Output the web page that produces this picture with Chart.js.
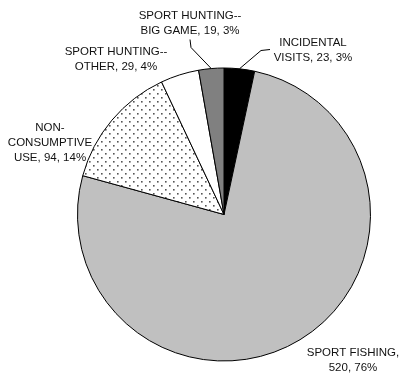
<!DOCTYPE html>
<html>
<head>
<meta charset="utf-8">
<script src="https://cdn.jsdelivr.net/npm/chart.js@4/dist/chart.umd.min.js"></script>
<style>
  html, body { margin: 0; padding: 0; background: #fff; }
  #wrap { width: 400px; height: 377px; }
</style>
</head>
<body>
<div id="wrap"><canvas id="pieChart" width="400" height="377"></canvas></div>
<script>
// data, clockwise from 12 o'clock
const categories = ['INCIDENTAL\nVISITS', 'SPORT FISHING', 'NON-\nCONSUMPTIVE\nUSE', 'SPORT HUNTING--\nOTHER', 'SPORT HUNTING--\nBIG GAME'];
const visits = [23, 520, 94, 29, 19];
const sliceFills = ['#000000', '#c0c0c0', 'dots', '#ffffff', '#808080'];

// label placement (offset of label block centre from pie centre) and leader lines
const labelOffsets = [[89, -164], [129, 146], [-174, -72], [-108, -155], [-34, -191]];
const valueOnNewLine = [false, true, false, false, false];
const leaderFrom = [[46, -165], null, null, null, [-34, -175]]; // where leader leaves the label
const leaderKnee = [[37, -164], null, null, null, [-33, -167]];

// dotted fill like the original
function dotPattern() {
    const c = document.createElement('canvas');
    c.width = 8; c.height = 8;
    const g = c.getContext('2d');
    g.fillStyle = '#fff';
    g.fillRect(0, 0, 8, 8);
    g.fillStyle = '#555';
    g.fillRect(1, 1, 1.6, 1.6);
    g.fillRect(5, 5, 1.6, 1.6);
    return g.createPattern(c, 'repeat');
}
const pattern = dotPattern();
const fills = sliceFills.map(f => f === 'dots' ? pattern : f);

const total = visits.reduce((a, b) => a + b, 0);

const pieLabels = {
    id: 'pieLabels',
    afterDatasetsDraw(chart) {
        const ctx = chart.ctx;
        const arcs = chart.getDatasetMeta(0).data;
        ctx.save();
        ctx.font = '11.5px "Liberation Sans", Arial, sans-serif';
        ctx.fillStyle = '#111';
        ctx.textAlign = 'center';
        ctx.textBaseline = 'middle';
        ctx.strokeStyle = '#000';
        ctx.lineWidth = 1;
        arcs.forEach((arc, i) => {
            const cx = arc.x, cy = arc.y;
            const pct = Math.round(visits[i] / total * 100);
            const text = categories[i] + (valueOnNewLine[i] ? ',\n' : ', ') + visits[i] + ', ' + pct + '%';
            const lines = text.split('\n');
            const lh = 15;
            const bx = cx + labelOffsets[i][0];
            const by = cy + labelOffsets[i][1];
            const top = by - (lines.length - 1) * lh / 2;
            lines.forEach((ln, k) => ctx.fillText(ln, bx, top + k * lh));

            if (leaderFrom[i]) {
                const mid = (arc.startAngle + arc.endAngle) / 2;
                const ex = cx + Math.cos(mid) * arc.outerRadius;
                const ey = cy + Math.sin(mid) * arc.outerRadius;
                ctx.beginPath();
                ctx.moveTo(cx + leaderFrom[i][0], cy + leaderFrom[i][1]);
                ctx.lineTo(cx + leaderKnee[i][0], cy + leaderKnee[i][1]);
                ctx.lineTo(ex, ey);
                ctx.stroke();
            }
        });
        ctx.restore();
    }
};

new Chart(document.getElementById('pieChart').getContext('2d'), {
    type: 'pie',
    data: {
        labels: categories,
        datasets: [{
            data: visits,
            backgroundColor: fills,
            borderColor: '#000',
            borderWidth: 1
        }]
    },
    options: {
        responsive: false,
        animation: false,
        layout: { padding: { top: 67, bottom: 15, left: 77, right: 29 } },
        plugins: {
            legend: { display: false },
            tooltip: { enabled: false }
        }
    },
    plugins: [pieLabels]
});
</script>
</body>
</html>
